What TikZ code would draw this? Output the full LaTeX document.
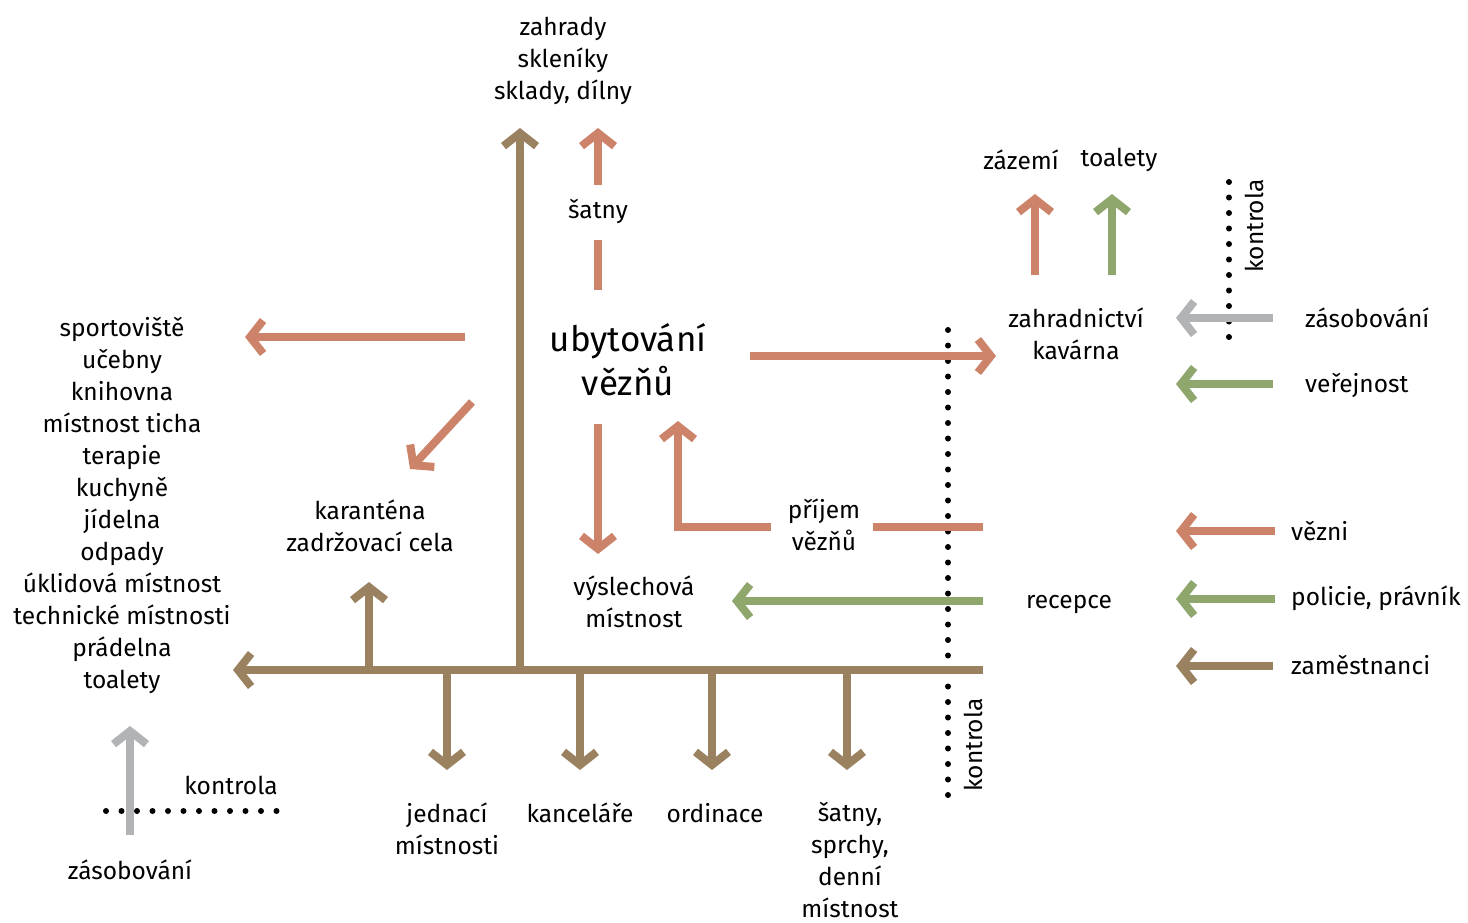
\documentclass[tikz,border=0pt]{standalone}
\usepackage{fontspec}
\setmainfont{Fira Sans}
\usetikzlibrary{arrows.meta,positioning}
\definecolor{hneda}{HTML}{9A8260}
\definecolor{cervena}{HTML}{CC836A}
\definecolor{zelena}{HTML}{8FA66D}
\definecolor{seda}{HTML}{B1B3B5}
\tikzset{
  tok/.style={line width=8pt,-{Straight Barb[length=13pt,width=33pt]}},
  usek/.style={line width=8pt},
  hranice/.style={line width=6pt,line cap=round,dash pattern=on 0pt off 15.5pt},
  popis/.style={align=center,inner sep=0pt,font=\fontsize{24.5}{32}\selectfont},
}
\begin{document}
\begin{tikzpicture}[x=1pt,y=-1pt]
	\useasboundingbox (0,0) rectangle (1468,922);
	% texty
	\node[popis] (zahrady) at (563,61) {zahrady\\skleníky\\sklady, dílny};
	\node[popis] (satny) at (598,211) {šatny};
	\node[popis,font=\fontsize{35}{44}\selectfont] (ubyt) at (628,360) {ubytování\\vězňů};
	\node[popis] (zazemi) at (1021,160) {zázemí};
	\node[popis] (toalety) at (1119,160) {toalety};
	\node[popis] (kavarna) at (1076,334) {zahradnictví\\kavárna};
	\node[popis,anchor=west] (zasob) at (1305,318) {zásobování};
	\node[popis,anchor=west] (verej) at (1305,385) {veřejnost};
	\node[popis,anchor=west] (vezni) at (1291,531) {vězni};
	\node[popis,anchor=west] (policie) at (1291,598) {policie, právník};
	\node[popis,anchor=west] (zamest) at (1291,665) {zaměstnanci};
	\node[popis] (sport) at (122,505) {sportoviště\\učebny\\knihovna\\místnost ticha\\terapie\\kuchyně\\jídelna\\odpady\\úklidová místnost\\technické místnosti\\prádelna\\toalety};
	\node[popis] (karant) at (370,526) {karanténa\\zadržovací cela};
	\node[popis] (vyslech) at (634,602) {výslechová\\místnost};
	\node[popis] (prijem) at (824,525) {příjem\\vězňů};
	\node[popis] (recepce) at (1069,604) {recepce};
	\node[popis] (jednaci) at (447,829) {jednací\\místnosti};
	\node[popis] (kancel) at (580,813) {kanceláře};
	\node[popis] (ordin) at (715,813) {ordinace};
	\node[popis] (sprchy) at (850,860) {šatny,\\sprchy,\\denní\\místnost};
	\node[popis] (zasobB) at (130,870) {zásobování};
	\node[popis] (kontrolaA) at (231,785) {kontrola};
	\node[popis,rotate=90] (kontrolaB) at (973,745) {kontrola};
	\node[popis,rotate=90] (kontrolaC) at (1254,226) {kontrola};
	% body
	\coordinate (osa) at (520,670);
	\coordinate (osaV) at (983,670);
	\coordinate (osaZ) at (233,670);
	\coordinate (osaN) at (520,128);
	\coordinate (kar0) at (369,670);
	\coordinate (kar1) at (369,582);
	\foreach \x/\n in {447/a,580/b,712/c,847/d}{
		\coordinate (dol0\n) at (\x,670);
		\coordinate (dol1\n) at (\x,770);
	}
	% kontroly
	\draw[hranice] (948,330) coordinate (hrA) -- (948,795) coordinate (hrB);
	\draw[hranice] (1229,182) coordinate (hrC) -- (1229,350) coordinate (hrD);
	\draw[hranice] (106,811) coordinate (hrE) -- (277,811) coordinate (hrF);
	% zamestnanci
	\draw[usek,hneda] (osaV) -- (osa);
	\draw[tok,hneda] (osa) -- (osaZ);
	\draw[tok,hneda] (osa) -- (osaN);
	\draw[tok,hneda] (kar0) -- (kar1);
	\foreach \n in {a,b,c,d}{
		\draw[tok,hneda] (dol0\n) -- (dol1\n);
	}
	\draw[tok,hneda] (1273,666) coordinate (lzam) -- (1176,666) coordinate (lzam1);
	% vezni
	\draw[usek,cervena] (598,240) coordinate (sat0) -- (598,290) coordinate (sat1);
	\draw[tok,cervena] (598,185) coordinate (sat2) -- (598,128) coordinate (sat3);
	\draw[tok,cervena] (465,337) coordinate (sp0) -- (245,337) coordinate (sp1);
	\draw[tok,cervena] (472,402) coordinate (ka0) -- (410,469) coordinate (ka1);
	\draw[tok,cervena] (598,424) coordinate (vy0) -- (598,554) coordinate (vy1);
	\draw[tok,cervena] (750,356) coordinate (za0) -- (996,356) coordinate (za1);
	\draw[usek,cervena] (983,527) coordinate (pr0) -- (873,527) coordinate (pr1);
	\draw[tok,cervena] (771,527) coordinate (pr2) -- (678,527) coordinate (pr3) -- (678,421) coordinate (pr4);
	\draw[tok,cervena] (1035,275) coordinate (zaz0) -- (1035,194) coordinate (zaz1);
	\draw[tok,cervena] (1275,531) coordinate (lvez) -- (1176,531) coordinate (lvez1);
	% verejnost
	\draw[tok,zelena] (1112,275) coordinate (toa0) -- (1112,194) coordinate (toa1);
	\draw[tok,zelena] (983,601) coordinate (rec0) -- (732,601) coordinate (rec1);
	\draw[tok,zelena] (1273,384) coordinate (lver) -- (1176,384) coordinate (lver1);
	\draw[tok,zelena] (1275,599) coordinate (lpol) -- (1176,599) coordinate (lpol1);
	% zasobovani
	\draw[tok,seda] (1273,318) coordinate (lzas) -- (1176,318) coordinate (lzas1);
	\draw[tok,seda] (130,835) coordinate (zs0) -- (130,726) coordinate (zs1);
\end{tikzpicture}
\end{document}
